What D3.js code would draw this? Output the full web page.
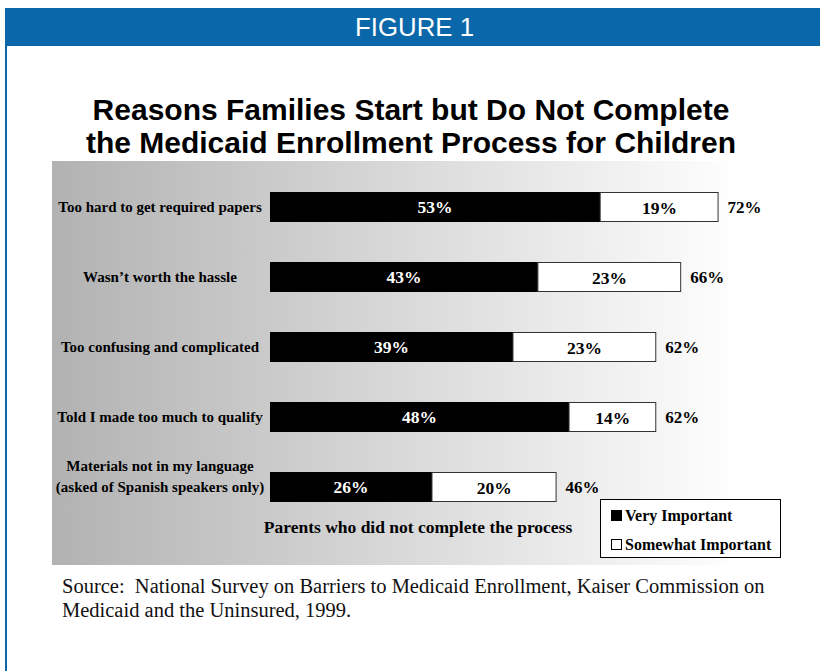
<!DOCTYPE html>
<html>
<head>
<meta charset="utf-8">
<script src="https://cdn.jsdelivr.net/npm/d3@7"></script>
<style>
  body { margin: 0; background: #fff; }
  svg { display: block; }
</style>
</head>
<body>
<svg width="820" height="671"></svg>
<script>
// data
var categories = [
  "Too hard to get required papers",
  "Wasn\u2019t worth the hassle",
  "Too confusing and complicated",
  "Told I made too much to qualify",
  "Materials not in my language|(asked of Spanish speakers only)"
];
var veryImportant = [53, 43, 39, 48, 26];
var somewhatImportant = [19, 23, 23, 14, 20];
var totals = [72, 66, 62, 62, 46];
var legendLabels = ["Very Important", "Somewhat Important"];

var width = 820, height = 671;
var svg = d3.select("svg");
var serif = "'Liberation Serif', 'Times New Roman', Times, serif";
var blue = "#0a67a9";

// header band + left border
svg.append("rect").attr("x", 5).attr("y", 8).attr("width", width - 5).attr("height", 38).attr("fill", blue);
svg.append("rect").attr("x", 5).attr("y", 45).attr("width", 2).attr("height", height - 45).attr("fill", blue);
svg.append("text")
  .attr("x", 355).attr("y", 36)
  .attr("textLength", 119).attr("lengthAdjust", "spacingAndGlyphs")
  .style("font-family", "'Liberation Sans', Arial, sans-serif")
  .style("font-size", "26px")
  .attr("fill", "#fff")
  .text("FIGURE 1");

// title
var title = svg.append("text")
  .attr("text-anchor", "middle")
  .style("font-family", "'Liberation Sans', Arial, sans-serif")
  .style("font-weight", "bold")
  .style("font-size", "30px")
  .attr("fill", "#000");
title.append("tspan").attr("x", 411).attr("y", 120).text("Reasons Families Start but Do Not Complete");
title.append("tspan").attr("x", 411).attr("y", 153).text("the Medicaid Enrollment Process for Children");

// gradient panel
var defs = svg.append("defs");
var grad = defs.append("linearGradient").attr("id", "bg").attr("x1", "0%").attr("x2", "100%").attr("y1", "0%").attr("y2", "0%");
grad.append("stop").attr("offset", "0%").attr("stop-color", "#b2b2b2");
grad.append("stop").attr("offset", "100%").attr("stop-color", "#fdfdfd");
svg.append("rect").attr("x", 52).attr("y", 161).attr("width", 676).attr("height", 404).attr("fill", "url(#bg)");

// scales
var x = d3.scaleLinear().domain([0, 100]).range([270, 893]);
var y = d3.scalePoint().domain(categories).range([207, 487]);
var barH = 30;

var rows = svg.append("g").selectAll("g")
  .data(categories)
  .enter().append("g");

rows.append("rect")
  .attr("x", x(0))
  .attr("y", function(d) { return y(d) - barH / 2; })
  .attr("width", function(d, i) { return x(veryImportant[i]) - x(0); })
  .attr("height", barH)
  .attr("fill", "#000");

rows.append("rect")
  .attr("x", function(d, i) { return x(veryImportant[i]); })
  .attr("y", function(d) { return y(d) - barH / 2 + 0.5; })
  .attr("width", function(d, i) { return x(veryImportant[i] + somewhatImportant[i]) - x(veryImportant[i]) - 0.5; })
  .attr("height", barH - 1)
  .attr("fill", "#fff")
  .attr("stroke", "#333")
  .attr("stroke-width", 1);

rows.append("text")
  .attr("x", function(d, i) { return (x(0) + x(veryImportant[i])) / 2; })
  .attr("y", function(d) { return y(d) + 6; })
  .attr("text-anchor", "middle")
  .style("font-family", serif).style("font-weight", "bold").style("font-size", "17.5px")
  .attr("fill", "#fff")
  .text(function(d, i) { return veryImportant[i] + "%"; });

rows.append("text")
  .attr("x", function(d, i) { return (x(veryImportant[i]) + x(veryImportant[i] + somewhatImportant[i])) / 2; })
  .attr("y", function(d) { return y(d) + 7; })
  .attr("text-anchor", "middle")
  .style("font-family", serif).style("font-weight", "bold").style("font-size", "17.5px")
  .attr("fill", "#000")
  .text(function(d, i) { return somewhatImportant[i] + "%"; });

rows.append("text")
  .attr("x", function(d, i) { return x(totals[i]) + 9; })
  .attr("y", function(d) { return y(d) + 6; })
  .style("font-family", serif).style("font-weight", "bold").style("font-size", "17px")
  .attr("fill", "#000")
  .text(function(d, i) { return totals[i] + "%"; });

// category labels
rows.append("text")
  .attr("text-anchor", "middle")
  .style("font-family", serif).style("font-weight", "bold").style("font-size", "15px")
  .attr("fill", "#000")
  .each(function(d) {
    var lines = d.split("|");
    var t = d3.select(this);
    lines.forEach(function(line, k) {
      t.append("tspan")
        .attr("x", 160)
        .attr("y", y(d) + 5 - (lines.length - 1 - k) * 21)
        .text(line);
    });
  });

// axis title
svg.append("text")
  .attr("x", 418).attr("y", 533)
  .attr("text-anchor", "middle")
  .style("font-family", serif).style("font-weight", "bold").style("font-size", "17.5px")
  .attr("fill", "#000")
  .text("Parents who did not complete the process");

// legend
var legend = svg.append("g");
legend.append("rect").attr("x", 600.5).attr("y", 499.5).attr("width", 180).attr("height", 58)
  .attr("fill", "#fff").attr("stroke", "#000").attr("stroke-width", 1);
var legendFill = ["#000", "#fff"];
legendLabels.forEach(function(label, i) {
  var ly = 516 + i * 29;
  legend.append("rect").attr("x", 611.5).attr("y", ly - 5.5).attr("width", 10).attr("height", 10)
    .attr("fill", legendFill[i]).attr("stroke", "#000").attr("stroke-width", 1);
  legend.append("text").attr("x", 625).attr("y", ly + 5)
    .style("font-family", serif).style("font-weight", "bold").style("font-size", "16px")
    .attr("fill", "#000")
    .text(label);
});

// source
var src = svg.append("text")
  .style("font-family", serif).style("font-size", "20.5px")
  .style("white-space", "pre")
  .attr("fill", "#111");
src.append("tspan").attr("x", 62).attr("y", 593).text("Source:  National Survey on Barriers to Medicaid Enrollment, Kaiser Commission on");
src.append("tspan").attr("x", 62).attr("y", 617).text("Medicaid and the Uninsured, 1999.");
</script>
</body>
</html>
